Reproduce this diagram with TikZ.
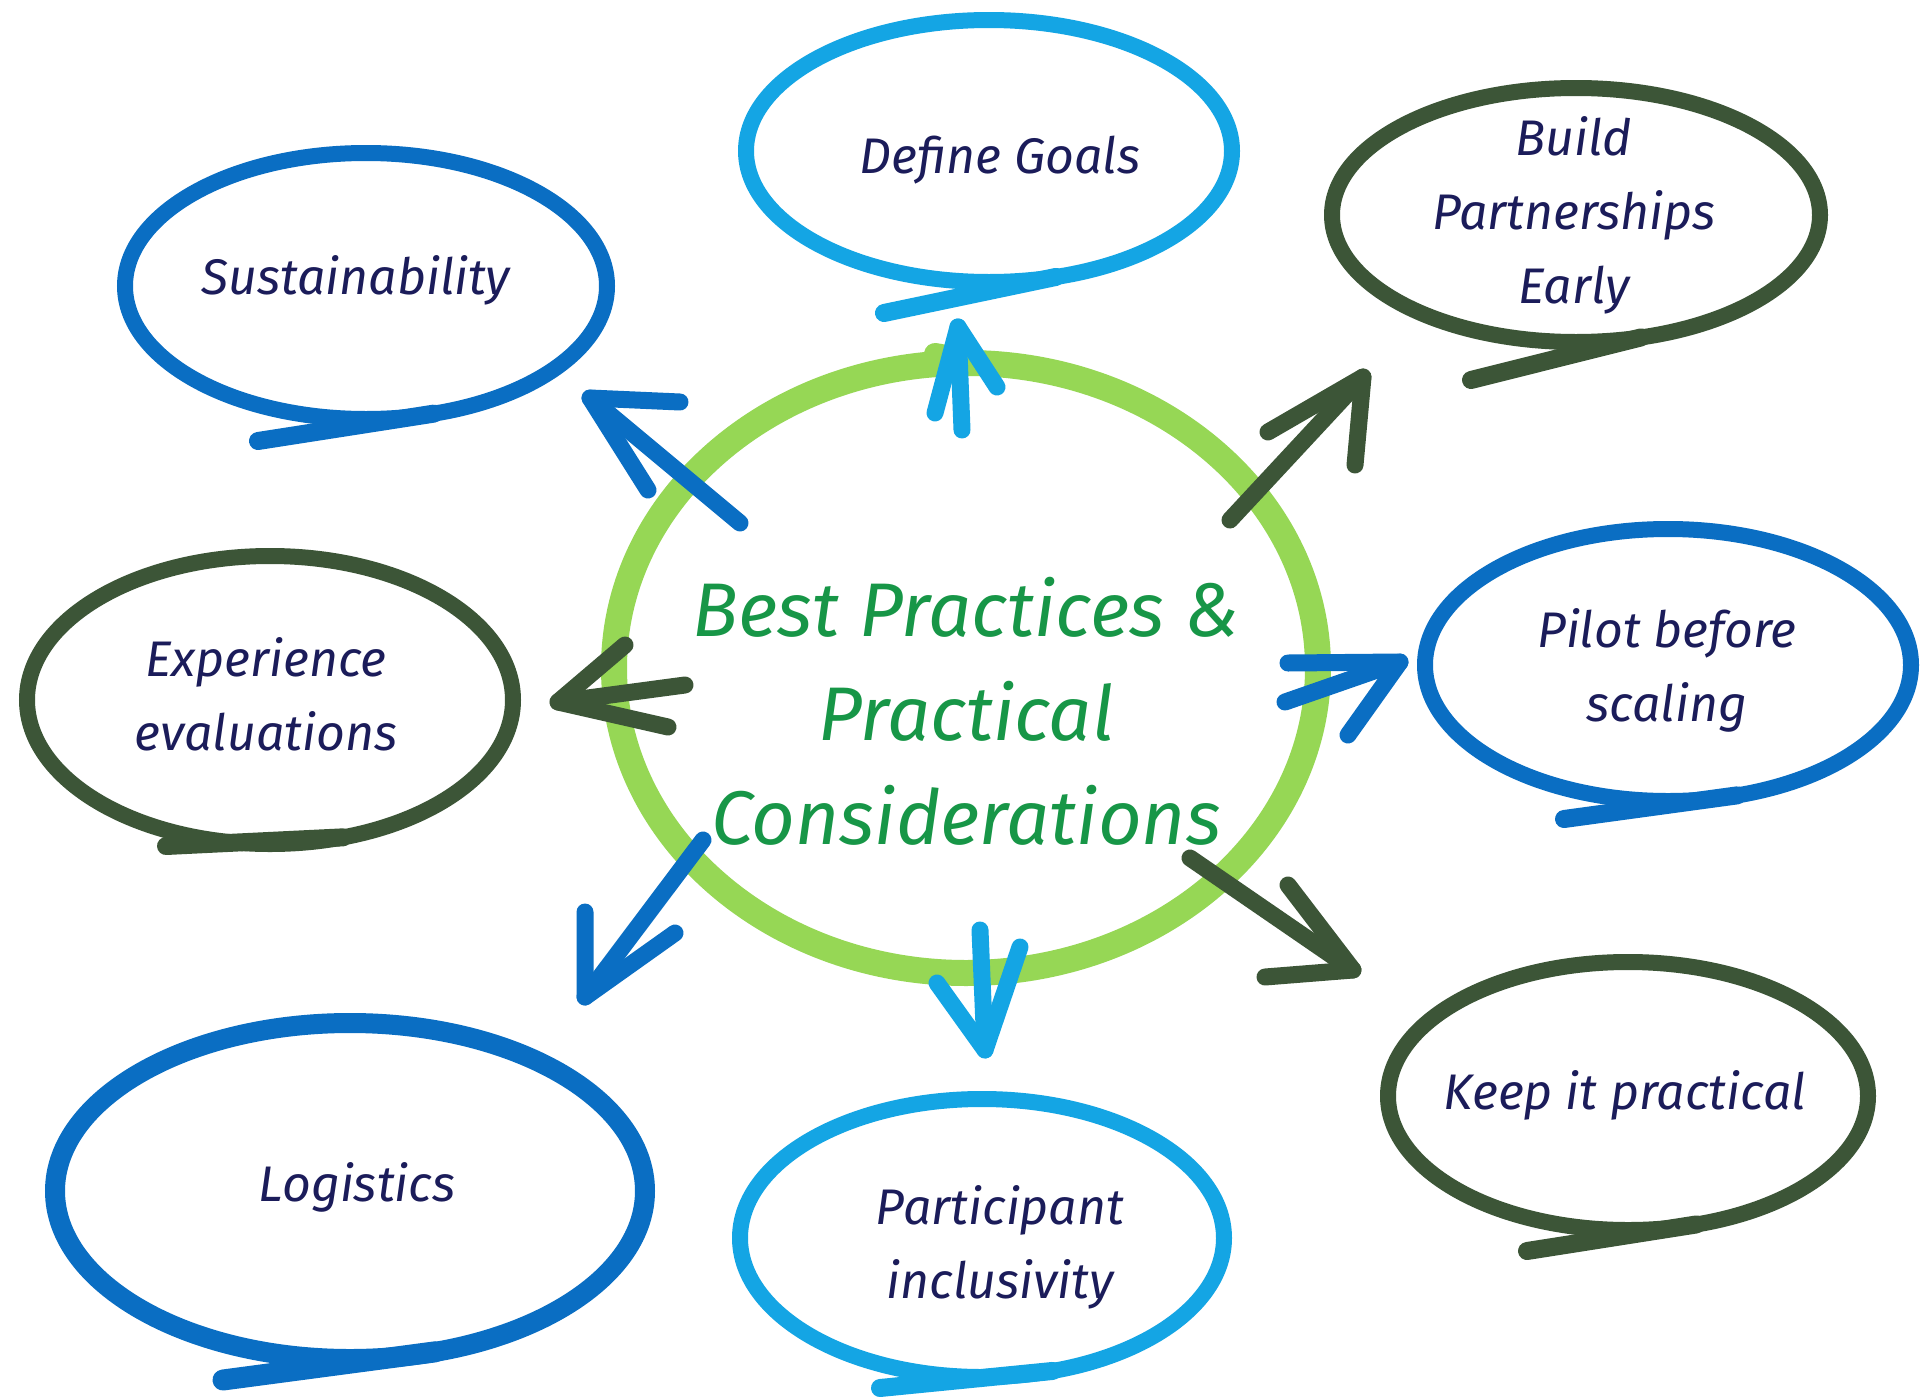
\documentclass[tikz,border=0pt]{standalone}
\usepackage{fontspec}
\setmainfont{Fira Sans}
\usetikzlibrary{shapes.geometric}

\definecolor{skyblue}{HTML}{14A5E4}
\definecolor{midblue}{HTML}{0A6EC3}
\definecolor{mossgreen}{HTML}{3C5537}
\definecolor{ringgreen}{HTML}{96D755}
\definecolor{titlegreen}{HTML}{179647}
\definecolor{inkblue}{HTML}{1B1C5A}

\begin{document}
\begin{tikzpicture}[x=0.5pt,y=-0.5pt,
  bubble/.style={ellipse, draw, line width=8pt, inner sep=0pt, outer sep=0pt},
  tailstroke/.style={line width=9pt, line cap=round},
  pointer/.style={line width=8.5pt, line cap=round, line join=round},
  note/.style={text=inkblue, align=center, font=\fontsize{25}{37}\selectfont\itshape},
  heading/.style={text=titlegreen, align=center, font=\fontsize{38}{52}\selectfont\itshape},
]
\useasboundingbox[fill=white] (0,0) rectangle (1923,1397);

% central ring
\node[ellipse, draw=ringgreen, line width=13pt, inner sep=0pt,
      minimum width=352pt, minimum height=305pt] (hub) at (966,668) {};
\coordinate (stubA) at (935,354);
\coordinate (stubB) at (1005,366);
\draw[ringgreen, line width=11pt, line cap=round] (stubA) -- (stubB);

% outer bubbles
\node[bubble, draw=skyblue,   minimum width=243pt, minimum height=131pt] (goals) at (989,151) {};
\node[bubble, draw=midblue,   minimum width=241pt, minimum height=133pt] (sust)  at (366,286) {};
\node[bubble, draw=mossgreen, minimum width=244pt, minimum height=127pt] (build) at (1576,215) {};
\node[bubble, draw=mossgreen, minimum width=243pt, minimum height=144pt] (exper) at (270,700) {};
\node[bubble, draw=midblue,   minimum width=243pt, minimum height=136pt] (pilot) at (1668,665) {};
\node[bubble, draw=mossgreen, minimum width=240pt, minimum height=134pt] (keep)  at (1628,1096) {};
\node[bubble, draw=skyblue,   minimum width=242pt, minimum height=139pt] (part)  at (982,1238) {};
\node[bubble, draw=midblue, line width=10pt, minimum width=295pt, minimum height=168pt] (logi) at (350,1191) {};

% bubble tails
\draw[tailstroke, skyblue]   (goals.-62) -- ([shift={(-105,162)}]goals.center);
\draw[tailstroke, midblue]   (sust.-62)  -- ([shift={(-108,155)}]sust.center);
\draw[tailstroke, mossgreen] (build.-62) -- ([shift={(-105,165)}]build.center);
\draw[tailstroke, mossgreen] (exper.-62) -- ([shift={(-104,146)}]exper.center);
\draw[tailstroke, midblue]   (pilot.-62) -- ([shift={(-104,154)}]pilot.center);
\draw[tailstroke, mossgreen] (keep.-62)  -- ([shift={(-101,155)}]keep.center);
\draw[tailstroke, skyblue]   (part.-62)  -- ([shift={(-102,150)}]part.center);
\draw[tailstroke, midblue, line width=10.5pt] (logi.-62) -- ([shift={(-127,189)}]logi.center);

% arrows out of the ring
\coordinate (upT) at (962,430);  \coordinate (upH) at (958,327);
\coordinate (upL) at (935,413);  \coordinate (upR) at (997,387);
\draw[pointer, skyblue] (upT) -- (upH);
\draw[pointer, skyblue] (upL) -- (upH) -- (upR);

\coordinate (ulT) at (740,523);  \coordinate (ulH) at (590,398);
\coordinate (ulA) at (680,402);  \coordinate (ulB) at (648,490);
\draw[pointer, midblue] (ulT) -- (ulH);
\draw[pointer, midblue] (ulA) -- (ulH) -- (ulB);

\coordinate (urT) at (1230,520); \coordinate (urH) at (1363,377);
\coordinate (urA) at (1268,432); \coordinate (urB) at (1355,465);
\draw[pointer, mossgreen] (urT) -- (urH);
\draw[pointer, mossgreen] (urA) -- (urH) -- (urB);

\coordinate (lfT) at (685,685);  \coordinate (lfH) at (558,702);
\coordinate (lfA) at (625,645);  \coordinate (lfB) at (668,727);
\draw[pointer, mossgreen] (lfT) -- (lfH);
\draw[pointer, mossgreen] (lfA) -- (lfH) -- (lfB);

\coordinate (rtT) at (1285,702); \coordinate (rtH) at (1400,662);
\coordinate (rtA) at (1288,663); \coordinate (rtB) at (1348,735);
\draw[pointer, midblue] (rtT) -- (rtH);
\draw[pointer, midblue] (rtA) -- (rtH) -- (rtB);

\coordinate (llT) at (703,840);  \coordinate (llH) at (585,997);
\coordinate (llA) at (585,912);  \coordinate (llB) at (675,933);
\draw[pointer, midblue] (llT) -- (llH);
\draw[pointer, midblue] (llA) -- (llH) -- (llB);

\coordinate (dnT) at (980,930);  \coordinate (dnH) at (985,1050);
\coordinate (dnA) at (937,983);  \coordinate (dnB) at (1020,947);
\draw[pointer, skyblue] (dnT) -- (dnH);
\draw[pointer, skyblue] (dnA) -- (dnH) -- (dnB);

\coordinate (lrT) at (1190,858); \coordinate (lrH) at (1353,970);
\coordinate (lrA) at (1265,977); \coordinate (lrB) at (1288,885);
\draw[pointer, mossgreen] (lrT) -- (lrH);
\draw[pointer, mossgreen] (lrA) -- (lrH) -- (lrB);

% texts
\node[heading] (hubT) at (966,711) {Best Practices \&\\Practical\\Considerations};
\node[note] (goalsT) at (1000,160) {Define Goals};
\node[note] (sustT)  at (356,280)  {Sustainability};
\node[note] (buildT) at (1574,215) {Build\\Partnerships\\Early};
\node[note] (experT) at (266,694)  {Experience\\evaluations};
\node[note] (pilotT) at (1667,670) {Pilot before\\scaling};
\node[note] (keepT)  at (1625,1095) {Keep it practical};
\node[note] (partT)  at (1000,1247) {Participant\\inclusivity};
\node[note] (logiT)  at (357,1187) {Logistics};
\end{tikzpicture}
\end{document}
